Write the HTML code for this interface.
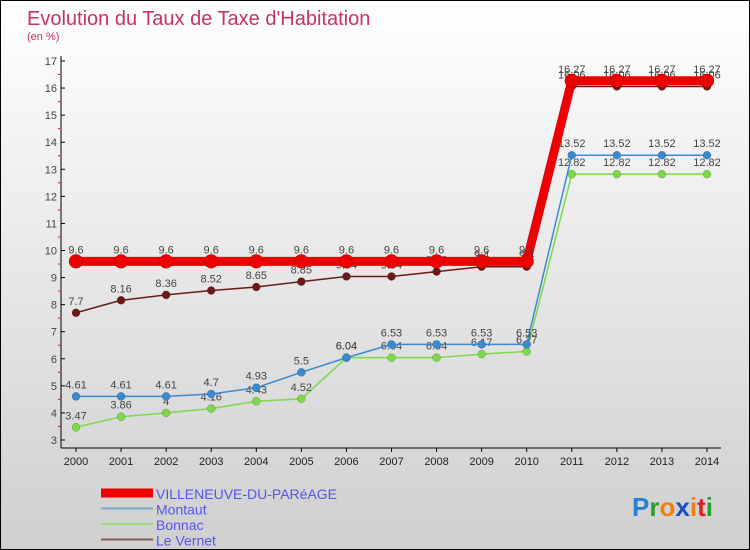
<!DOCTYPE html>
<html><head><meta charset="utf-8"><style>
body{margin:0}
#c{position:relative;width:748px;height:548px;border:1px solid #000;background:linear-gradient(#fff,#cfcfcf);font-family:"Liberation Sans",sans-serif;overflow:hidden}
</style></head><body>
<div id="c">
<svg id="s" width="748" height="548" style="position:absolute;left:0;top:0">
<text x="26" y="24" font-size="20" fill="#c8325f">Evolution du Taux de Taxe d'Habitation</text>
<text x="26" y="39" font-size="11" fill="#c8325f">(en %)</text>
<text x="631" y="515" font-size="26" font-weight="bold"><tspan fill="#2a7fd0">P</tspan><tspan fill="#2aa02a">r</tspan><tspan fill="#f08010">o</tspan><tspan fill="#1a50c0">x</tspan><tspan fill="#f08010">i</tspan><tspan fill="#e02020">t</tspan><tspan fill="#2aa02a">i</tspan></text>
</svg>
</div>
<script>
const years=[2000,2001,2002,2003,2004,2005,2006,2007,2008,2009,2010,2011,2012,2013,2014];
const villeneuve=[9.6,9.6,9.6,9.6,9.6,9.6,9.6,9.6,9.6,9.6,9.6,16.27,16.27,16.27,16.27];
const montaut=[4.61,4.61,4.61,4.7,4.93,5.5,6.04,6.53,6.53,6.53,6.53,13.52,13.52,13.52,13.52];
const bonnac=[3.47,3.86,4,4.16,4.43,4.52,6.04,6.04,6.04,6.17,6.27,12.82,12.82,12.82,12.82];
const vernet=[7.7,8.16,8.36,8.52,8.65,8.85,9.04,9.04,9.22,9.4,9.4,16.06,16.06,16.06,16.06];
const yTicks=[3,4,5,6,7,8,9,10,11,12,13,14,15,16,17];
const seriesNames=["VILLENEUVE-DU-PARéAGE","Montaut","Bonnac","Le Vernet"];
const NS="http://www.w3.org/2000/svg";
const svg=document.getElementById('s');
const xs=i=>75+i*45.07;
const ys=v=>60+(17-v)*27.07;
function el(t,a,p){const e=document.createElementNS(NS,t);for(const k in a)e.setAttribute(k,a[k]);(p||svg).appendChild(e);return e;}
// axes
let ax=el('line',{x1:60,y1:55,x2:60,y2:447,stroke:'#000'});


let bx=el('line',{x1:60,y1:447,x2:720,y2:447,stroke:'#000'});


yTicks.forEach(v=>{
 el('line',{x1:60,y1:ys(v),x2:64,y2:ys(v),stroke:'#000'});
 if(v<17){let m=el('line',{x1:57,y1:ys(v+0.5),x2:59,y2:ys(v+0.5),stroke:'#f00'});}
 let t=el('text',{x:56,y:ys(v)+4,'font-size':11,'text-anchor':'end',fill:'#444'});t.textContent=v;
 
 
});
years.forEach((y,i)=>{
 el('line',{x1:xs(i),y1:447,x2:xs(i),y2:451,stroke:'#000'});
 let t=el('text',{x:xs(i),y:464,'font-size':11,'text-anchor':'middle',fill:'#222'});t.textContent=y;
 
 
});
function series(data,color,w,r,name){
 const g=el('g',{});
 
 
 el('polyline',{points:data.map((v,i)=>xs(i)+','+ys(v)).join(' '),fill:'none',stroke:color,'stroke-width':w},g);
 data.forEach((v,i)=>{
  let c=el('circle',{cx:xs(i),cy:ys(v),r:r,fill:color,stroke:'rgba(0,0,0,0.3)','stroke-width':0.5},g);
  
  
  let t=el('text',{x:xs(i),y:ys(v)-8,'font-size':11,'text-anchor':'middle',fill:'#444'},g);t.textContent=v;
 });
}
series(vernet,'#6b1a1a',1.5,4,'series-le-vernet');
series(bonnac,'#7dd94a',1.5,4,'series-bonnac');
series(montaut,'#3a8ad0',1.5,4,'series-montaut');
series(villeneuve,'#ee0000',9,7,'series-villeneuve');
// legend
const lc=['#ee0000','#7aa8c8','#99dd77','#8a5a5a'],lw=[9,2,2,2];
seriesNames.forEach((n,i)=>{
 const g=el('g',{});
 
 
 const y=492+i*15.5;
 el('line',{x1:100,y1:y,x2:152,y2:y,stroke:lc[i],'stroke-width':lw[i]},g);
 let t=el('text',{x:155,y:y+6,'font-size':14,fill:'#5555ee'},g);t.textContent=n;
});
</script>
</body></html>
